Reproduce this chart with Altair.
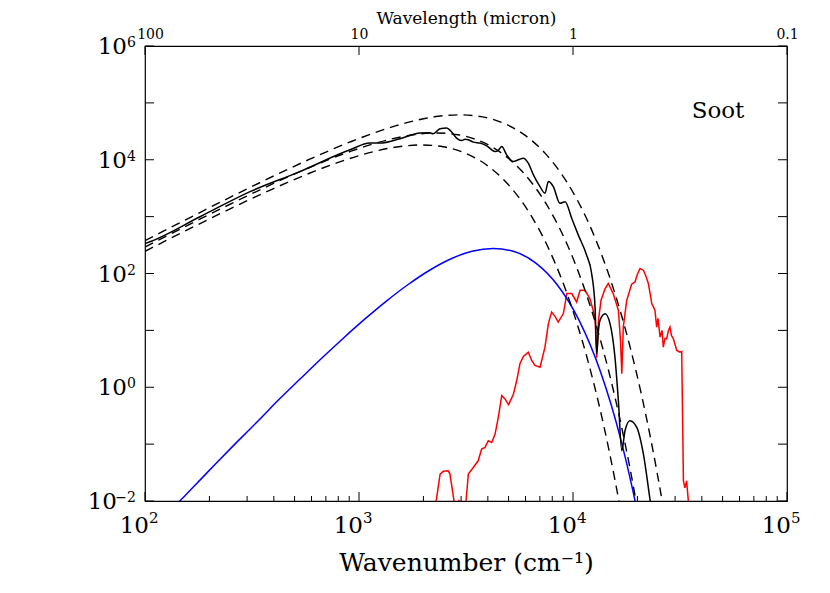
import numpy as np
import pandas as pd
import altair as alt

# ---------------- data (log10 values) ----------------
# x: log10 wavenumber [cm^-1], y: log10 flux
bb_hot_log_wn = [2.0, 2.07, 2.17, 2.27, 2.37, 2.47, 2.57, 2.67, 2.77, 2.87,
                 2.97, 3.07, 3.17, 3.27, 3.37, 3.47, 3.57, 3.67, 3.77, 3.87,
                 3.97, 4.07, 4.12, 4.17, 4.22, 4.27, 4.32, 4.37, 4.42, 4.47]
bb_hot_log_flux = [2.577, 2.713, 2.906, 3.098, 3.288, 3.475, 3.658, 3.837, 4.01, 4.175,
                   4.33, 4.471, 4.595, 4.695, 4.764, 4.79, 4.759, 4.652, 4.446, 4.112,
                   3.615, 2.913, 2.468, 1.95, 1.351, 0.661, -0.132, -1.04, -2.077, -3.26]

bb_mid_log_wn = [2.0, 2.063, 2.163, 2.263, 2.363, 2.463, 2.563, 2.663, 2.763, 2.863,
                 2.963, 3.063, 3.163, 3.263, 3.363, 3.463, 3.563, 3.663, 3.763, 3.863,
                 3.963, 4.013, 4.063, 4.113, 4.163, 4.213, 4.263, 4.313]
bb_mid_log_flux = [2.465, 2.587, 2.778, 2.968, 3.155, 3.338, 3.517, 3.69, 3.855, 4.01,
                   4.151, 4.275, 4.375, 4.444, 4.47, 4.439, 4.332, 4.126, 3.792, 3.295,
                   2.593, 2.148, 1.63, 1.031, 0.341, -0.452, -1.36, -2.397]

bb_cool_log_wn = [2.0, 2.093, 2.193, 2.293, 2.393, 2.493, 2.593, 2.693, 2.793, 2.893,
                  2.993, 3.093, 3.193, 3.293, 3.393, 3.493, 3.593, 3.693, 3.793, 3.893,
                  3.943, 3.993, 4.043, 4.093, 4.143, 4.193, 4.243]
bb_cool_log_flux = [2.39, 2.568, 2.758, 2.945, 3.128, 3.307, 3.48, 3.645, 3.80, 3.941,
                    4.065, 4.165, 4.234, 4.26, 4.229, 4.122, 3.916, 3.582, 3.085, 2.383,
                    1.938, 1.42, 0.821, 0.131, -0.662, -1.57, -2.607]

soot_log_wn = [2.0, 2.023, 2.257, 2.491, 2.724, 2.958, 3.051, 3.098, 3.192, 3.285,
               3.33, 3.346, 3.379, 3.41, 3.43, 3.456, 3.48, 3.495, 3.511, 3.535,
               3.565, 3.597, 3.636, 3.652, 3.667, 3.690, 3.721, 3.745, 3.768, 3.791,
               3.815, 3.846, 3.869, 3.885, 3.908, 3.939, 3.963, 3.994, 4.025, 4.063,
               4.087, 4.103, 4.111, 4.119, 4.126, 4.150, 4.173, 4.196, 4.212, 4.228,
               4.243, 4.266, 4.298, 4.329, 4.361, 4.369]
soot_log_flux = [2.525, 2.557, 2.998, 3.439, 3.792, 4.175, 4.293, 4.293, 4.37, 4.469,
                 4.475, 4.457, 4.545, 4.557, 4.50, 4.381, 4.339, 4.36, 4.351, 4.31,
                 4.293, 4.245, 4.145, 4.17, 4.233, 4.086, 3.968, 4.0, 4.028, 3.94,
                 3.734, 3.527, 3.411, 3.616, 3.527, 3.235, 3.263, 2.97, 2.675, 2.33,
                 2.0, 1.411, 0.589, 1.0, 1.176, 1.294, 1.118, 0.529, -0.235, -1.116,
                 -0.764, -0.587, -0.705, -1.175, -2.0, -2.2]

blue_log_wn = [2.078, 2.128, 2.228, 2.328, 2.428, 2.528, 2.628, 2.728, 2.828, 2.928,
               3.028, 3.128, 3.228, 3.328, 3.428, 3.528, 3.628, 3.728, 3.828, 3.928,
               4.028, 4.128, 4.178, 4.228, 4.278, 4.328]
blue_log_flux = [-2.332, -2.135, -1.746, -1.354, -0.969, -0.593, -0.208, 0.157, 0.518, 0.867,
                 1.201, 1.515, 1.802, 2.053, 2.255, 2.392, 2.441, 2.382, 2.179, 1.793,
                 1.180, 0.278, -0.304, -0.986, -1.786, -2.711]

red_log_wn = [3.350, 3.360, 3.379, 3.394, 3.417, 3.425, 3.444, 3.453, 3.462, 3.467,
              3.472, 3.491, 3.500, 3.511, 3.534, 3.557, 3.573, 3.589, 3.604, 3.620,
              3.636, 3.651, 3.667, 3.682, 3.699, 3.721, 3.737, 3.752, 3.768, 3.791,
              3.807, 3.822, 3.846, 3.869, 3.885, 3.900, 3.916, 3.931, 3.955, 3.971,
              3.994, 4.017, 4.033, 4.056, 4.079, 4.103, 4.111, 4.119, 4.131, 4.150,
              4.165, 4.188, 4.212, 4.222, 4.228, 4.235, 4.251, 4.274, 4.290, 4.299,
              4.313, 4.329, 4.341, 4.352, 4.362, 4.368, 4.383, 4.391, 4.397, 4.407,
              4.416, 4.422, 4.430, 4.438, 4.446, 4.453, 4.460, 4.469, 4.485, 4.500,
              4.508, 4.516, 4.523, 4.531, 4.539, 4.544]
red_log_flux = [-2.26, -2.016, -1.527, -1.478, -1.469, -1.527, -1.998, -2.26, -2.05, -1.98,
                -2.26, -2.26, -2.0, -1.527, -1.411, -1.293, -1.086, -1.058, -0.94, -0.97,
                -0.822, -0.529, -0.146, -0.205, -0.305, -0.129, 0.118, 0.413, 0.541, 0.617,
                0.471, 0.383, 0.353, 0.705, 1.118, 1.323, 1.247, 1.146, 1.295, 1.647,
                1.647, 1.499, 1.705, 1.705, 1.559, 1.235, 0.52, 1.176, 1.529, 1.735,
                1.824, 1.647, 1.353, 0.824, 0.236, 1.058, 1.529, 1.811, 1.852, 1.970,
                2.088, 2.058, 1.952, 1.824, 1.617, 1.471, 1.353, 1.058, 1.212, 0.882,
                1.0, 0.705, 0.859, 0.854, 1.0, 1.058, 0.912, 0.854, 0.647, 0.617,
                0.63, -1.646, -1.769, -1.646, -2.0, -2.26]

# ticks and tick labels
x_major = [1e2, 1e3, 1e4, 1e5]
x_major_exp = ["2", "3", "4", "5"]
x_minor = [m * d for d in (1e2, 1e3, 1e4) for m in range(2, 10)]
top_labels = ["100", "10", "1", "0.1"]
y_major = [1e-2, 1e-1, 1e0, 1e1, 1e2, 1e3, 1e4, 1e5, 1e6]
y_label_values = [1e-2, 1e0, 1e2, 1e4, 1e6]
y_label_exp = ["\u22122", "0", "2", "4", "6"]
annotation = ["Soot"]


def curve(name, lwn, lflux):
    lwn = np.asarray(lwn, float)
    lflux = np.asarray(lflux, float)
    return pd.DataFrame({"series": name, "wavenumber": 10.0 ** lwn,
                         "flux": 10.0 ** lflux, "i": np.arange(len(lwn))})


dashed_df = pd.concat([curve("bb_hot", bb_hot_log_wn, bb_hot_log_flux),
                       curve("bb_mid", bb_mid_log_wn, bb_mid_log_flux),
                       curve("bb_cool", bb_cool_log_wn, bb_cool_log_flux)],
                      ignore_index=True)
soot_df = curve("soot", soot_log_wn, soot_log_flux)
blue_df = curve("blue", blue_log_wn, blue_log_flux)
red_df = curve("red", red_log_wn, red_log_flux)

W, H = 642, 455
FONT = "DejaVu Serif"

xs = alt.Scale(type="log", domain=[1e2, 1e5], nice=False)
ys = alt.Scale(type="log", domain=[1e-2, 1e6], nice=False)

X = alt.X("wavenumber:Q", scale=xs, axis=None)
Y = alt.Y("flux:Q", scale=ys, axis=None)

dashed = alt.Chart(dashed_df).mark_line(
    clip=True, color="black", strokeWidth=1.4, strokeDash=[9, 6], interpolate="monotone"
).encode(
    x=alt.X("wavenumber:Q", scale=xs, axis=alt.Axis(
        title="Wavenumber (cm\u207b\u00b9)", labels=False, ticks=False, domain=False, grid=False,
        titleFont=FONT, titleFontSize=25, titleFontWeight="normal", titleColor="black",
        titlePadding=49)),
    y=alt.Y("flux:Q", scale=ys, axis=alt.Axis(
        title="Flux (ergcm\u207b\u00b2s\u207b\u00b9cm)", labels=False, ticks=False, domain=False,
        grid=False, titleFont=FONT, titleFontSize=25, titleFontWeight="normal",
        titleColor="black", titlePadding=73)),
    detail="series:N",
    order="i:Q",
)

soot = alt.Chart(soot_df).mark_line(clip=True, color="black", strokeWidth=1.5,
                                    interpolate="monotone").encode(x=X, y=Y, order="i:Q")
blue = alt.Chart(blue_df).mark_line(clip=True, color="#0000ff", strokeWidth=1.5,
                                    interpolate="monotone").encode(x=X, y=Y, order="i:Q")
red = alt.Chart(red_df).mark_line(clip=True, color="#ff0000", strokeWidth=1.5).encode(
    x=X, y=Y, order="i:Q")

# top axis label expression built from the label list
expr = "''"
for v, lab in reversed(list(zip(x_major, top_labels))):
    expr = f"(round(datum.value) == {int(v)}) ? '{lab}' : {expr}"

xmaj_df = pd.DataFrame({"v": x_major, "exp": x_major_exp, "base": "10"})
xmin_df = pd.DataFrame({"v": x_minor})
ymaj_df = pd.DataFrame({"v": y_major})
ylab_df = pd.DataFrame({"v": y_label_values, "exp": y_label_exp, "base": "10",
                        "neg": [e.startswith("\u2212") for e in y_label_exp]})

XV = alt.X("v:Q", scale=xs, axis=None)
YV = alt.Y("v:Q", scale=ys, axis=None)

tick_bottom_major = alt.Chart(xmaj_df).mark_rule(color="black", strokeWidth=1).encode(
    x=XV, y=alt.value(H), y2=alt.value(H - 9))
tick_bottom_minor = alt.Chart(xmin_df).mark_rule(color="black", strokeWidth=1).encode(
    x=XV, y=alt.value(H), y2=alt.value(H - 5))
tick_top = alt.Chart(xmaj_df).mark_rule(color="black", strokeWidth=1).encode(
    x=alt.X("v:Q", scale=xs, axis=alt.Axis(
        orient="top", values=x_major, labelExpr=expr, title="Wavelength (micron)",
        ticks=False, domain=False, grid=False, labelFont=FONT, labelFontSize=14,
        labelColor="black", labelPadding=5, labelFlush=False, labelOverlap=False,
        labelOffset={"condition": {"test": "datum.value < 200", "value": 5}, "value": 0},
        titleFont=FONT, titleFontSize=17, titleFontWeight="normal", titleColor="black",
        titlePadding=0)),
    y=alt.value(0), y2=alt.value(9))
tick_left = alt.Chart(ymaj_df).mark_rule(color="black", strokeWidth=1).encode(
    y=YV, x=alt.value(0), x2=alt.value(9))
tick_right = alt.Chart(ymaj_df).mark_rule(color="black", strokeWidth=1).encode(
    y=YV, x=alt.value(W), x2=alt.value(W - 9))

x10 = alt.Chart(xmaj_df).mark_text(font=FONT, fontSize=23, align="right",
                                   baseline="alphabetic", dx=4, color="black").encode(
    x=XV, y=alt.value(H + 32), text="base:N")
xexp = alt.Chart(xmaj_df).mark_text(font=FONT, fontSize=15, align="left",
                                    baseline="alphabetic", dx=4, color="black").encode(
    x=XV, y=alt.value(H + 22), text="exp:N")

y10_pos = alt.Chart(ylab_df).transform_filter("!datum.neg").mark_text(
    font=FONT, fontSize=23, align="right", baseline="alphabetic", dy=8, color="black"
).encode(x=alt.value(-18), y=YV, text="base:N")
y10_neg = alt.Chart(ylab_df).transform_filter("datum.neg").mark_text(
    font=FONT, fontSize=23, align="right", baseline="alphabetic", dy=8, color="black"
).encode(x=alt.value(-28), y=YV, text="base:N")
yexp = alt.Chart(ylab_df).mark_text(font=FONT, fontSize=14, align="right",
                                    baseline="alphabetic", dy=1, color="black").encode(
    x=alt.value(-9), y=YV, text="exp:N")

label = alt.Chart(pd.DataFrame({"t": annotation})).mark_text(
    font=FONT, fontSize=23, align="center", baseline="middle", color="black"
).encode(x=alt.value(573), y=alt.value(65), text="t:N")

chart = alt.layer(
    red, blue, dashed, soot,
    tick_bottom_major, tick_bottom_minor, tick_top, tick_left, tick_right,
    x10, xexp, y10_pos, y10_neg, yexp, label,
).resolve_axis(x="independent").properties(
    width=W, height=H,
    autosize=alt.AutoSizeParams(type="none"),
    padding={"left": 137, "top": 38, "right": 35, "bottom": 84},
    background="white",
).configure_view(stroke="black", strokeWidth=1.2)

chart.save("out.html", embed_options={"renderer": "svg", "actions": False})
